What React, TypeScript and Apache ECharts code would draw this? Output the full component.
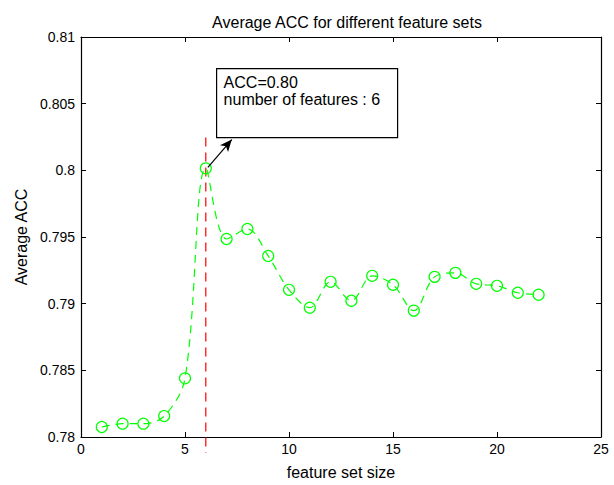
import React, { useEffect, useRef } from "react";
import * as echarts from "echarts";

const featureSizes = [1, 2, 3, 4, 5, 6, 7, 8, 9, 10, 11, 12, 13, 14, 15, 16, 17, 18, 19, 20, 21, 22];
const avgAcc = [
  0.78075, 0.781, 0.781, 0.78157, 0.7844, 0.80015, 0.79485, 0.7956, 0.79358, 0.79104, 0.7897,
  0.79164, 0.79022, 0.79209, 0.79142, 0.78948, 0.79201, 0.79231, 0.79149, 0.79134, 0.79082, 0.79067,
];
const bestSize = 6;
const redLineY = [0.80246, 0.7788];
const arrowFrom = [6.1, 0.80022];
const arrowTo = [7.25, 0.80231];
const annotationLines = ["ACC=0.80", "number of features : 6"];
const titleText = "Average ACC for different feature sets";
const xName = "feature set size";
const yName = "Average ACC";

const FONT = "'Liberation Sans', Arial, Helvetica, sans-serif";

export default function App() {
  const ref = useRef<HTMLDivElement>(null);
  useEffect(() => {
    if (!ref.current) return;
    const chart = echarts.init(ref.current, null, { renderer: "svg" });
    const grid = { left: 81, right: 13, top: 37, bottom: 46 };
    const axisCommon = {
      axisLine: { show: true, onZero: false, lineStyle: { color: "#000", width: 1.2 } },
      axisTick: { show: true, inside: true, length: 5, lineStyle: { color: "#000" } },
      splitLine: { show: false },
    };
    chart.setOption({
      animation: false,
      backgroundColor: "#fff",
      textStyle: { fontFamily: FONT },
      title: {
        text: titleText,
        left: 342,
        textAlign: "center",
        top: 9,
        textStyle: { fontSize: 16, fontWeight: "normal", color: "#000", fontFamily: FONT },
      },
      grid,
      xAxis: [
        {
          type: "value",
          min: 0,
          max: 25,
          interval: 5,
          name: xName,
          nameLocation: "middle",
          nameGap: 27,
          nameTextStyle: { fontSize: 16, color: "#000", fontFamily: FONT },
          axisLabel: { fontSize: 14, color: "#000", margin: 5, fontFamily: FONT },
          ...axisCommon,
        },
        {
          type: "value",
          position: "top",
          min: 0,
          max: 25,
          interval: 5,
          axisLabel: { show: false },
          ...axisCommon,
        },
      ],
      yAxis: [
        {
          type: "value",
          min: 0.78,
          max: 0.81,
          interval: 0.005,
          name: yName,
          nameLocation: "middle",
          nameGap: 51,
          nameRotate: 90,
          nameTextStyle: { fontSize: 16, color: "#000", fontFamily: FONT },
          axisLabel: {
            fontSize: 14,
            color: "#000",
            margin: 6,
            fontFamily: FONT,
            formatter: (v: number) => String(parseFloat(v.toFixed(3))),
          },
          ...axisCommon,
        },
        {
          type: "value",
          position: "right",
          min: 0.78,
          max: 0.81,
          interval: 0.005,
          axisLabel: { show: false },
          ...axisCommon,
        },
      ],
      series: [
        {
          type: "line",
          data: redLineY.map((y) => [bestSize, y]),
          clip: false,
          symbol: "none",
          lineStyle: { color: "#ff0000", width: 1.2, type: [9, 6] },
          z: 1,
        },
        {
          type: "line",
          data: featureSizes.map((x, i) => [x, avgAcc[i]]),
          smooth: 0.35,
          symbol: "circle",
          symbolSize: 11,
          itemStyle: { color: "transparent", borderColor: "#00ff00", borderWidth: 1.2 },
          lineStyle: { color: "#00ff00", width: 1.2, type: [8, 6] },
          z: 2,
          markLine: {
            silent: true,
            symbol: ["none", "arrow"],
            symbolSize: [8, 12],
            label: { show: false },
            lineStyle: { color: "#000", width: 1.2, type: "solid" },
            data: [[{ coord: arrowFrom }, { coord: arrowTo }]],
          },
        },
      ],
      graphic: [
        {
          type: "group",
          left: 216,
          top: 68,
          children: [
            {
              type: "rect",
              shape: { x: 0, y: 0, width: 181, height: 69 },
              style: { fill: "#fff", stroke: "#000", lineWidth: 1.2 },
            },
            {
              type: "text",
              x: 7,
              y: 5,
              style: {
                text: annotationLines.join("\n"),
                font: `16px ${FONT}`,
                fill: "#000",
                lineHeight: 17,
              },
            },
          ],
        },
      ],
    });
    return () => chart.dispose();
  }, []);
  return (
    <div
      ref={ref}
      style={{ position: "absolute", left: 0, top: 0, width: 614, height: 485, background: "#fff" }}
    />
  );
}
